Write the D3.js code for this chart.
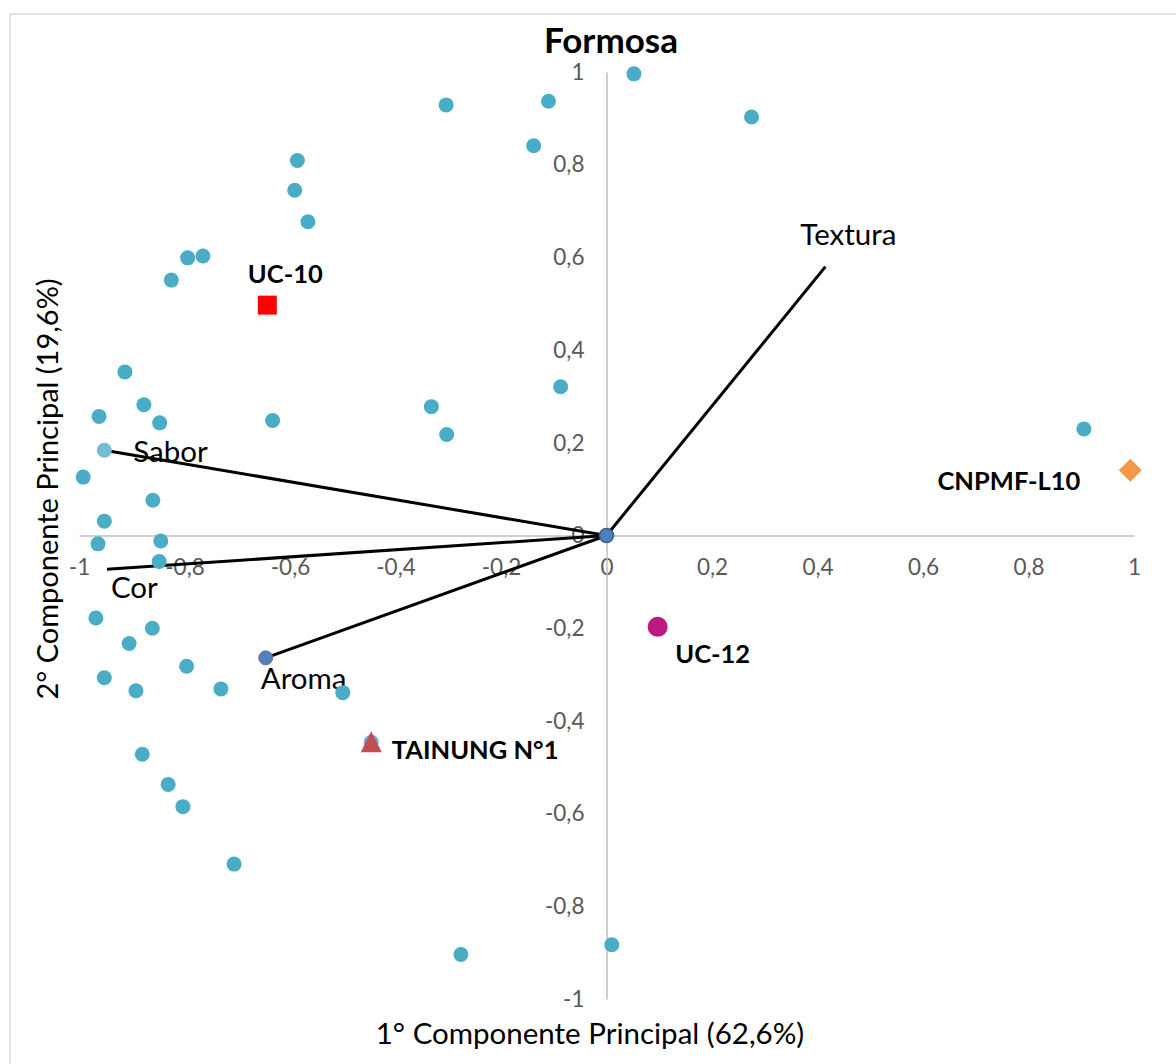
<!DOCTYPE html>
<meta charset="utf-8">
<style>
    body { margin: 0; background: #fff; }
    text { font-family: Lato, "Open Sans", sans-serif; }
    .axis path { stroke: #bfbfbf; stroke-width: 1.5px; }
    .axis text { fill: #595959; font-size: 22.5px; }
</style>
<svg width="1176" height="1064"></svg>
<script src="https://d3js.org/d3.v7.min.js"></script>
<script>
    // PCA scores (all samples)
    const scoreX = [0.052, 0.275, -0.110, -0.304, -0.138, -0.586, -0.591, -0.566, -0.765, -0.794,
        -0.825, -0.913, -0.877, -0.962, -0.847, -0.633, -0.992, -0.860, -0.952, -0.964,
        -0.845, -0.848, -0.968, -0.861, -0.905, -0.796, -0.952, -0.892, -0.731, -0.500,
        -0.087, -0.332, -0.303, 0.905, -0.880, -0.831, -0.803, -0.706, -0.276, 0.010];
    const scoreY = [0.996, 0.903, 0.937, 0.929, 0.841, 0.809, 0.745, 0.677, 0.603, 0.599,
        0.551, 0.353, 0.282, 0.257, 0.243, 0.248, 0.126, 0.076, 0.031, -0.018,
        -0.012, -0.056, -0.178, -0.200, -0.233, -0.282, -0.307, -0.335, -0.331, -0.339,
        0.321, 0.278, 0.218, 0.230, -0.472, -0.537, -0.585, -0.709, -0.904, -0.883];

    // loadings of the sensory variables
    const varNames = ["Textura", "Sabor", "Cor", "Aroma"];
    const loadX = [0.415, -0.952, -0.947, -0.646];
    const loadY = [0.580, 0.184, -0.073, -0.264];

    // highlighted cultivars
    const cultivars = ["UC-10", "UC-12", "CNPMF-L10", "TAINUNG N°1"];
    const cultX = [-0.643, 0.097, 0.993, -0.446];
    const cultY = [0.497, -0.197, 0.141, -0.448];

    const ticks = [-1, -0.8, -0.6, -0.4, -0.2, 0, 0.2, 0.4, 0.6, 0.8, 1];

    let svg = d3.select("svg");

    //outer chart frame (only left and top edges show)
    svg.append("rect")
        .attr("x", 10).attr("y", 14)
        .attr("width", 1300).attr("height", 1200)
        .attr("fill", "none")
        .attr("stroke", "#d9d9d9")
        .attr("stroke-width", 1.5);

    let x = d3.scaleLinear().domain([-1, 1]).range([79, 1134]);
    let y = d3.scaleLinear().domain([-1, 1]).range([999, 72]);

    const fmt = d => String(+d.toFixed(1)).replace(".", ",");

    svg.append("g")
        .attr("class", "axis")
        .attr("transform", "translate(0," + y(0) + ")")
        .call(d3.axisBottom(x).tickValues(ticks).tickFormat(fmt).tickSize(0).tickPadding(24))
        .call(g => g.select(".domain").attr("stroke", "#bfbfbf"));

    svg.append("g")
        .attr("class", "axis")
        .attr("transform", "translate(" + x(0) + ",0)")
        .call(d3.axisLeft(y).tickValues(ticks).tickFormat(fmt).tickSize(0).tickPadding(22))
        .call(g => g.select(".domain").attr("stroke", "#bfbfbf"));

    svg.selectAll(".axis text").attr("font-family", null);

    //title + axis titles
    svg.append("text")
        .attr("x", 611).attr("y", 53)
        .attr("text-anchor", "middle")
        .attr("font-size", 35).attr("font-weight", "bold")
        .text("Formosa");

    svg.append("text")
        .attr("x", 590).attr("y", 1044)
        .attr("text-anchor", "middle")
        .attr("font-size", 29.5)
        .text("1° Componente Principal (62,6%)");

    svg.append("text")
        .attr("transform", "translate(58,489) rotate(-90)")
        .attr("text-anchor", "middle")
        .attr("font-size", 29)
        .text("2° Componente Principal (19,6%)");

    //loading vectors
    const vecIdx = d3.range(varNames.length);
    svg.append("g")
        .selectAll("line")
        .data(vecIdx)
        .enter().append("line")
        .attr("x1", x(0)).attr("y1", y(0))
        .attr("x2", i => x(loadX[i]))
        .attr("y2", i => y(loadY[i]))
        .attr("stroke", "#000")
        .attr("stroke-width", 3);

    const vecLabelOff = [[23, -22, "middle"], [29, 12, "start"], [4, 29, "start"], [-5, 31, "start"]];
    svg.append("g")
        .selectAll("text")
        .data(vecIdx)
        .enter().append("text")
        .attr("x", i => x(loadX[i]) + vecLabelOff[i][0])
        .attr("y", i => y(loadY[i]) + vecLabelOff[i][1])
        .attr("text-anchor", i => vecLabelOff[i][2])
        .attr("font-size", 29.5)
        .text(i => varNames[i]);

    //sample points
    svg.append("g")
        .selectAll("circle")
        .data(d3.range(scoreX.length))
        .enter().append("circle")
        .attr("cx", i => x(scoreX[i]))
        .attr("cy", i => y(scoreY[i]))
        .attr("r", 7.5)
        .attr("fill", "#4bacc6");

    //vector end markers
    svg.append("circle")
        .attr("cx", x(loadX[1])).attr("cy", y(loadY[1])).attr("r", 7.5)
        .attr("fill", "#72bdd2");
    svg.append("circle")
        .attr("cx", x(loadX[3])).attr("cy", y(loadY[3])).attr("r", 7)
        .attr("fill", "#4f81bd").attr("stroke", "#8064a2").attr("stroke-width", 1);
    svg.append("circle")
        .attr("cx", x(0)).attr("cy", y(0)).attr("r", 7)
        .attr("fill", "#4f81bd").attr("stroke", "#385d8a").attr("stroke-width", 1.5);

    //cultivar markers
    // circle hidden behind TAINUNG triangle
    svg.append("circle")
        .attr("cx", x(cultX[3])).attr("cy", y(cultY[3]) - 1).attr("r", 7.5)
        .attr("fill", "#7aa6da");

    svg.append("rect")
        .attr("x", x(cultX[0]) - 9.5).attr("y", y(cultY[0]) - 9.5)
        .attr("width", 19).attr("height", 19)
        .attr("fill", "#ff0000");

    svg.append("circle")
        .attr("cx", x(cultX[1])).attr("cy", y(cultY[1])).attr("r", 10)
        .attr("fill", "#bb1a82");

    svg.append("path")
        .attr("transform", "translate(" + x(cultX[2]) + "," + y(cultY[2]) + ")")
        .attr("d", "M0,-11.5L11.5,0L0,11.5L-11.5,0Z")
        .attr("fill", "#f79646");

    svg.append("path")
        .attr("transform", "translate(" + x(cultX[3]) + "," + y(cultY[3]) + ")")
        .attr("d", "M0,-12L10.5,9L-10.5,9Z")
        .attr("fill", "#c0504d");

    const cultLabelOff = [[18, -22, "middle"], [55, 36, "middle"], [-50, 20, "end"], [20.5, 16, "start"]];
    svg.append("g")
        .selectAll("text")
        .data(d3.range(cultivars.length))
        .enter().append("text")
        .attr("x", i => x(cultX[i]) + cultLabelOff[i][0])
        .attr("y", i => y(cultY[i]) + cultLabelOff[i][1])
        .attr("text-anchor", i => cultLabelOff[i][2])
        .attr("font-size", 25.5)
        .attr("font-weight", "bold")
        .text(i => cultivars[i]);
</script>
<body>
</body>
